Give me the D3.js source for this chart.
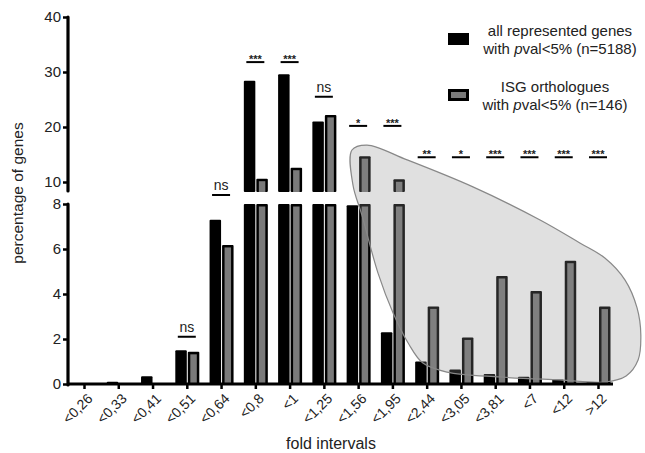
<!DOCTYPE html>
<html>
<head>
<meta charset="utf-8">
<script src="https://cdn.jsdelivr.net/npm/d3@7"></script>
<style>
  html, body { margin: 0; padding: 0; background: #fff; }
  svg { display: block; font-family: "Liberation Sans", Arial, sans-serif; }
</style>
</head>
<body>
<svg id="chart" width="645" height="453"></svg>
<script>
// ---- data ----
const categories = ["<0,26","<0,33","<0,41","<0,51","<0,64","<0,8","<1","<1,25","<1,56","<1,95","<2,44","<3,05","<3,81","<7","<12",">12"];
const allGenes   = [0.05, 0.1, 0.35, 1.5, 7.3, 28.4, 29.6, 21.0, 7.95, 2.3, 1.0, 0.65, 0.45, 0.32, 0.2, 0.08];
const isgGenes   = [0, 0, 0, 1.43, 6.18, 10.6, 12.6, 22.2, 14.7, 10.5, 3.45, 2.07, 4.8, 4.13, 5.48, 3.44];
const sigLabels  = ["", "", "", "ns", "ns", "***", "***", "ns", "*", "***", "**", "*", "***", "***", "***", "***"];
const sigLevels  = [null, null, null, 2.1, 8.4, 31.8, 31.8, 25.5, 20.2, 20.2, 14.5, 14.5, 14.5, 14.5, 14.5, 14.5];
const lowerTicks = [0, 2, 4, 6, 8];
const upperTicks = [10, 20, 30, 40];
const seriesNames = [["all represented genes", "with pval<5% (n=5188)"], ["ISG orthologues", "with pval<5% (n=146)"]];
// highlighted region outline, in (category position, percentage on lower scale) units
const blobX = [7.82, 8.26, 9.43, 11.35, 13.31, 14.47, 15.20, 15.79, 16.14, 16.25, 16.17, 15.82, 15.20, 13.89, 12.14, 10.59, 9.89, 9.46, 9.02, 8.58, 8.11, 7.85];
const blobY = [10.4, 10.62, 9.96, 8.76, 7.29, 6.27, 5.6, 4.62, 3.38, 2.18, 1.07, 0.36, 0.09, 0.18, 0.31, 0.53, 0.93, 1.82, 3.16, 4.93, 7.51, 8.84];

// ---- scales ----
const svg = d3.select("#chart");
const x = d3.scalePoint().domain(categories).range([84, 598]);
const xIdx = d3.scaleLinear().domain([0, categories.length - 1]).range([84, 598]);
const yLow = d3.scaleLinear().domain([0, 8]).range([384, 204]);
const yHigh = d3.scaleLinear().domain([10, 40]).range([182, 17]);
const breakTop = 192; // bottom of the upper segment
const yAny = v => v <= 8.4 ? yLow(v) : yHigh(v);

const bw = 11.5;

function barSegments(v) {
  if (v <= 8) return [[yLow(v), yLow(0)]];
  return [[yHigh(v), breakTop], [yLow(8), yLow(0)]];
}

const g = svg.append("g");

// black bars
categories.forEach((c, i) => {
  const v = allGenes[i];
  if (v <= 0) return;
  barSegments(v).forEach(([y0, y1]) => {
    g.append("rect").attr("x", x(c) - bw).attr("y", y0).attr("width", bw).attr("height", Math.max(1.5, y1 - y0))
      .attr("fill", "#000").attr("rx", 1);
  });
});
// grey bars
categories.forEach((c, i) => {
  const v = isgGenes[i];
  if (v <= 0) return;
  barSegments(v).forEach(([y0, y1]) => {
    g.append("rect").attr("x", x(c) + 1).attr("y", y0).attr("width", bw).attr("height", y1 - y0)
      .attr("fill", "#000").attr("rx", 1);
    g.append("rect").attr("x", x(c) + 3.5).attr("y", y0 + 2.5).attr("width", bw - 5).attr("height", Math.max(0, y1 - y0 - 2.5))
      .attr("fill", "#7a7a7a");
  });
});

// highlighted region
const blobPts = blobX.map((bx, i) => [xIdx(bx), yLow(blobY[i])]);
svg.append("path")
  .attr("d", d3.line().curve(d3.curveCatmullRomClosed.alpha(0.5))(blobPts))
  .attr("fill", "rgba(140,140,140,0.27)")
  .attr("stroke", "#888").attr("stroke-width", 1.2);

// axes
const axisLow = d3.axisLeft(yLow).tickValues(lowerTicks).tickSize(5).tickPadding(2);
const axisHigh = d3.axisLeft(yHigh).tickValues(upperTicks).tickSize(5).tickPadding(2);
function styleAxis(sel) {
  sel.select(".domain").remove();
  sel.selectAll(".tick line").attr("stroke", "#000").attr("stroke-width", 2.5);
  sel.selectAll(".tick text").attr("font-size", 15).attr("fill", "#222")
    .attr("font-family", "Liberation Sans, Arial, sans-serif");
}
const gl = svg.append("g").attr("transform", "translate(68,0)").call(axisLow); styleAxis(gl);
const gh = svg.append("g").attr("transform", "translate(68,0)").call(axisHigh); styleAxis(gh);
svg.append("line").attr("x1", 68).attr("x2", 68).attr("y1", yLow(0) + 1).attr("y2", yLow(8))
  .attr("stroke", "#000").attr("stroke-width", 3.2).attr("stroke-linecap", "round");
svg.append("line").attr("x1", 68).attr("x2", 68).attr("y1", yHigh(40)).attr("y2", breakTop - 1)
  .attr("stroke", "#000").attr("stroke-width", 3.2).attr("stroke-linecap", "round");

const gx = svg.append("g").attr("transform", `translate(0,${yLow(0)})`)
  .call(d3.axisBottom(x).tickSize(5).tickFormat(""));
gx.select(".domain").remove();
gx.selectAll(".tick line").attr("stroke", "#000").attr("stroke-width", 2.5);
svg.append("line").attr("x1", 67).attr("x2", 613).attr("y1", yLow(0)).attr("y2", yLow(0))
  .attr("stroke", "#000").attr("stroke-width", 3.2);

// x tick labels
categories.forEach(c => {
  svg.append("text")
    .attr("transform", `translate(${x(c) + 6},${yLow(0) + 12}) rotate(-45)`)
    .attr("text-anchor", "end").attr("dy", "0.35em")
    .attr("font-size", 14).attr("fill", "#222").text(c);
});

// axis titles
svg.append("text").attr("x", 331).attr("y", 449).attr("text-anchor", "middle")
  .attr("font-size", 16).attr("fill", "#222").text("fold intervals");
svg.append("text").attr("transform", "translate(23,193) rotate(-90)").attr("text-anchor", "middle")
  .attr("font-size", 15.5).attr("fill", "#222").text("percentage of genes");

// significance marks
categories.forEach((c, i) => {
  const lvl = sigLevels[i];
  if (lvl == null) return;
  const yy = yAny(lvl);
  svg.append("line").attr("x1", x(c) - 9).attr("x2", x(c) + 9).attr("y1", yy).attr("y2", yy)
    .attr("stroke", "#000").attr("stroke-width", 2);
  const lab = sigLabels[i];
  if (lab === "ns") {
    svg.append("text").attr("x", x(c)).attr("y", yy - 5).attr("text-anchor", "middle")
      .attr("font-size", 14).attr("fill", "#222").text(lab);
  } else {
    svg.append("text").attr("x", x(c)).attr("y", yy + 1).attr("text-anchor", "middle")
      .attr("font-size", 11).attr("font-weight", "bold").attr("fill", "#222").text(lab);
  }
});

// legend
const legY = [39, 95];
[0, 1].forEach(k => {
  const ly = legY[k];
  svg.append("rect").attr("x", 448).attr("y", ly - 6).attr("width", 21).attr("height", 12).attr("fill", "#000");
  if (k === 1) {
    svg.append("rect").attr("x", 451).attr("y", ly - 3).attr("width", 15).attr("height", 6).attr("fill", "#7a7a7a");
  }
  const cx = k === 0 ? 560 : 555;
  svg.append("text").attr("x", cx).attr("y", ly - 3).attr("text-anchor", "middle")
    .attr("font-size", 15).attr("fill", "#222").text(seriesNames[k][0]);
  const t2 = svg.append("text").attr("x", cx).attr("y", ly + 15).attr("text-anchor", "middle")
    .attr("font-size", 15).attr("fill", "#222");
  const parts = seriesNames[k][1].split("pval");
  t2.append("tspan").text(parts[0]);
  t2.append("tspan").attr("font-style", "italic").text("p");
  t2.append("tspan").text("val" + parts[1]);
});
</script>
</body>
</html>
